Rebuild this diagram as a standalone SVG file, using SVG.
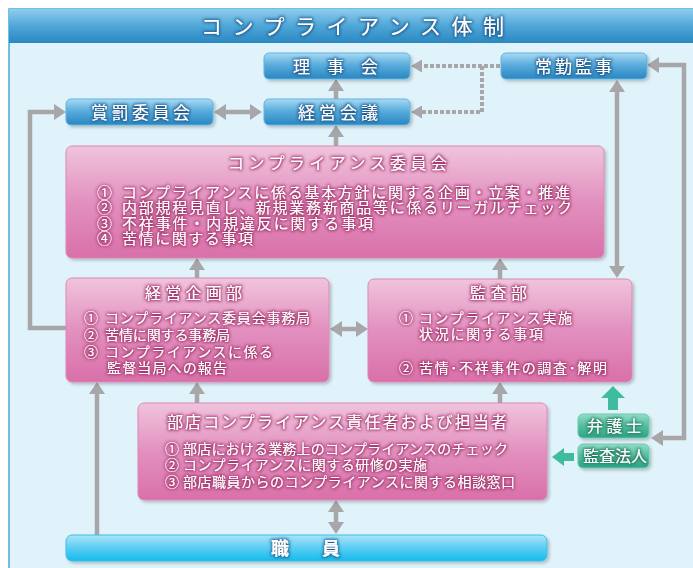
<svg xmlns="http://www.w3.org/2000/svg" width="693" height="568" viewBox="0 0 693 568">
<defs>
<linearGradient id="gTitle" x1="0" y1="0" x2="0" y2="1"><stop offset="0" stop-color="#8fcdee"/><stop offset="0.5" stop-color="#4fa6d8"/><stop offset="1" stop-color="#2a88c2"/></linearGradient>
<linearGradient id="gBlue" x1="0" y1="0" x2="0" y2="1"><stop offset="0" stop-color="#a9daf3"/><stop offset="0.45" stop-color="#5aaddc"/><stop offset="1" stop-color="#2a86c2"/></linearGradient>
<linearGradient id="gPink" x1="0" y1="0" x2="0" y2="1"><stop offset="0" stop-color="#f0c4dc"/><stop offset="0.5" stop-color="#e290bf"/><stop offset="1" stop-color="#d970a9"/></linearGradient>
<linearGradient id="gTeal" x1="0" y1="0" x2="0" y2="1"><stop offset="0" stop-color="#93ddc9"/><stop offset="0.5" stop-color="#55bd9f"/><stop offset="1" stop-color="#2ea584"/></linearGradient>
<linearGradient id="gStaff" x1="0" y1="0" x2="0" y2="1"><stop offset="0" stop-color="#ace3f8"/><stop offset="0.5" stop-color="#5acdf2"/><stop offset="1" stop-color="#16bbee"/></linearGradient>
<filter id="sh" x="-10%" y="-20%" width="120%" height="150%"><feDropShadow dx="2" dy="2" stdDeviation="1.5" flood-color="#000" flood-opacity="0.22"/></filter>
<filter id="glP" x="-10%" y="-40%" width="120%" height="180%"><feMorphology in="SourceAlpha" operator="dilate" radius="0.9" result="d"/><feGaussianBlur in="d" stdDeviation="1.5" result="b"/><feFlood flood-color="#a8326f" flood-opacity="0.95"/><feComposite in2="b" operator="in" result="g"/><feMerge><feMergeNode in="g"/><feMergeNode in="SourceGraphic"/></feMerge></filter>
<filter id="glB" x="-10%" y="-40%" width="120%" height="180%"><feMorphology in="SourceAlpha" operator="dilate" radius="0.8" result="d"/><feGaussianBlur in="d" stdDeviation="1.4" result="b"/><feFlood flood-color="#17598f" flood-opacity="0.9"/><feComposite in2="b" operator="in" result="g"/><feMerge><feMergeNode in="g"/><feMergeNode in="SourceGraphic"/></feMerge></filter>
<filter id="glT" x="-10%" y="-40%" width="120%" height="180%"><feMorphology in="SourceAlpha" operator="dilate" radius="0.8" result="d"/><feGaussianBlur in="d" stdDeviation="1.4" result="b"/><feFlood flood-color="#1c7a60" flood-opacity="0.9"/><feComposite in2="b" operator="in" result="g"/><feMerge><feMergeNode in="g"/><feMergeNode in="SourceGraphic"/></feMerge></filter>
<marker id="ah" markerUnits="userSpaceOnUse" markerWidth="13" markerHeight="16" refX="0" refY="8" orient="auto-start-reverse"><path d="M0,0 L12,8 L0,16 z" fill="#a7a7aa"/></marker>
<marker id="ahs" markerUnits="userSpaceOnUse" markerWidth="12" markerHeight="13" refX="0" refY="6.5" orient="auto-start-reverse"><path d="M0,0 L11,6.5 L0,13 z" fill="#a7a7aa"/></marker>
</defs>
<style>
text{font-family:"Noto Sans CJK JP","Noto Sans",sans-serif;fill:#fff}
.bl{stroke:#62b3e0;stroke-width:1;fill:url(#gBlue)}
.pk{stroke:#dc88b8;stroke-width:1;fill:url(#gPink)}
.tl{stroke:#6cc9ae;stroke-width:1;fill:url(#gTeal)}
.tb{font-size:17px;filter:url(#glB)}
.tp{filter:url(#glP)}
.tt{font-size:16px;filter:url(#glT)}
.c{fill:none;stroke:#a7a7aa;stroke-width:4.5}
.d{fill:none;stroke:#a7a7aa;stroke-width:4;stroke-dasharray:4 2}
</style>
<rect width="693" height="568" fill="#fff"/>
<rect x="9" y="9" width="700" height="570" fill="#e0f3fa" stroke="#47a9d9" stroke-width="1.5"/>
<rect x="9" y="9" width="700" height="34" fill="url(#gTitle)"/>
<text x="201" y="34" font-size="21" textLength="303" lengthAdjust="spacing" filter="url(#glB)">コンプライアンス体制</text>

<g id="connectors">
<path class="c" d="M336,99 V91" marker-end="url(#ah)"/>
<path class="c" d="M336,146 V137" marker-end="url(#ah)"/>
<path class="c" d="M226,112 H250" marker-start="url(#ah)" marker-end="url(#ah)"/>
<path class="d" d="M500,66 H422" marker-end="url(#ahs)"/>
<path class="d" d="M482,66 V112 H422" marker-end="url(#ahs)"/>
<path class="c" d="M66,328 H30 V112 H54" marker-end="url(#ah)"/>
<path class="c" d="M197,278 V270" marker-end="url(#ah)"/>
<path class="c" d="M500,279 V270" marker-end="url(#ah)"/>
<path class="c" d="M617,92 V266" marker-start="url(#ah)" marker-end="url(#ah)"/>
<path class="c" d="M342,329 H356" marker-start="url(#ah)" marker-end="url(#ah)"/>
<path class="c" d="M663,438 H684 V65 H659" marker-start="url(#ah)" marker-end="url(#ah)"/>
<path class="c" d="M97,536 V394" marker-end="url(#ah)"/>
<path class="c" d="M197,403 V394" marker-end="url(#ah)"/>
<path class="c" d="M500,403 V394" marker-end="url(#ah)"/>
<path class="c" d="M336,512 V522" marker-start="url(#ah)" marker-end="url(#ah)"/>
<path d="M613,386 L625,398 L618,398 L618,410 L608,410 L608,398 L601,398 z" fill="#3fbb9e"/>
<path d="M552,457 L564,448 L564,453 L574,453 L574,461 L564,461 L564,466 z" fill="#3fbb9e"/>
</g>

<g id="n-board"><rect class="bl" x="264" y="53" width="146" height="26" rx="5" filter="url(#sh)"/><text class="tb" x="293" y="73" font-size="16" textLength="85" lengthAdjust="spacing">理事会</text></g>
<g id="n-auditor"><rect class="bl" x="501" y="53" width="146" height="26" rx="5" filter="url(#sh)"/><text class="tb" x="535" y="73" textLength="77" lengthAdjust="spacing">常勤監事</text></g>
<g id="n-reward"><rect class="bl" x="66" y="99" width="147" height="26" rx="5" filter="url(#sh)"/><text class="tb" x="91" y="119" textLength="99" lengthAdjust="spacing">賞罰委員会</text></g>
<g id="n-mgmt"><rect class="bl" x="264" y="99" width="146" height="26" rx="5" filter="url(#sh)"/><text class="tb" x="298" y="119" textLength="80" lengthAdjust="spacing">経営会議</text></g>

<g id="n-committee"><rect class="pk" x="66" y="146" width="538" height="112" rx="6" filter="url(#sh)"/>
<g class="tp">
<text x="228" y="169" font-size="16" textLength="219" lengthAdjust="spacing">コンプライアンス委員会</text>
<g font-size="15">
<text x="97" y="197.5">①</text><text x="122" y="197.5" textLength="448" lengthAdjust="spacing">コンプライアンスに係る基本方針に関する企画・立案・推進</text>
<text x="97" y="213">②</text><text x="122" y="213" textLength="450" lengthAdjust="spacing">内部規程見直し、新規業務新商品等に係るリーガルチェック</text>
<text x="97" y="228.5">③</text><text x="122" y="228.5" textLength="251" lengthAdjust="spacing">不祥事件・内規違反に関する事項</text>
<text x="97" y="244">④</text><text x="122" y="244" textLength="131" lengthAdjust="spacing">苦情に関する事項</text>
</g></g></g>

<g id="n-planning"><rect class="pk" x="66" y="278" width="263" height="104" rx="6" filter="url(#sh)"/>
<g class="tp">
<text x="145" y="299" font-size="16" textLength="97" lengthAdjust="spacing">経営企画部</text>
<g font-size="14">
<text x="84" y="323">①</text><text x="105" y="323" textLength="205" lengthAdjust="spacing">コンプライアンス委員会事務局</text>
<text x="84" y="340">②</text><text x="105" y="340" textLength="125" lengthAdjust="spacing">苦情に関する事務局</text>
<text x="84" y="357">③</text><text x="105" y="357" textLength="168" lengthAdjust="spacing">コンプライアンスに係る</text>
<text x="107" y="373" textLength="120" lengthAdjust="spacing">監督当局への報告</text>
</g></g></g>

<g id="n-audit"><rect class="pk" x="368" y="279" width="264" height="103" rx="6" filter="url(#sh)"/>
<g class="tp">
<text x="470" y="299" font-size="16" textLength="57" lengthAdjust="spacing">監査部</text>
<g font-size="14">
<text x="399" y="323">①</text><text x="419" y="323" textLength="153" lengthAdjust="spacing">コンプライアンス実施</text>
<text x="419" y="339" textLength="124" lengthAdjust="spacing">状況に関する事項</text>
<text x="399" y="373">②</text><text x="419" y="373" textLength="188" lengthAdjust="spacing">苦情･不祥事件の調査･解明</text>
</g></g></g>

<g id="n-branch"><rect class="pk" x="138" y="403" width="409" height="97" rx="6" filter="url(#sh)"/>
<g class="tp">
<text x="167" y="428" font-size="16" textLength="340" lengthAdjust="spacing">部店コンプライアンス責任者および担当者</text>
<g font-size="14">
<text x="165" y="454">①</text><text x="183" y="454" textLength="325" lengthAdjust="spacing">部店における業務上のコンプライアンスのチェック</text>
<text x="165" y="470">②</text><text x="183" y="470" textLength="244" lengthAdjust="spacing">コンプライアンスに関する研修の実施</text>
<text x="165" y="487">③</text><text x="183" y="487" textLength="332" lengthAdjust="spacing">部店職員からのコンプライアンスに関する相談窓口</text>
</g></g></g>

<g id="n-lawyer"><rect class="tl" x="578" y="414" width="71" height="24" rx="5" filter="url(#sh)"/><text class="tt" x="587" y="432" font-size="17" textLength="55" lengthAdjust="spacing">弁護士</text></g>
<g id="n-cpa"><rect class="tl" x="578" y="444" width="71" height="24" rx="5" filter="url(#sh)"/><text class="tt" x="583" y="462" textLength="64" lengthAdjust="spacing">監査法人</text></g>

<g id="n-staff"><rect x="66" y="535" width="481" height="26" rx="6" fill="url(#gStaff)" stroke="#3cbfe9" stroke-width="1" filter="url(#sh)"/>
<g filter="url(#glB)" font-size="18" font-weight="bold"><text x="280" y="555" text-anchor="middle">職</text><text x="331" y="555" text-anchor="middle">員</text></g></g>
</svg>
